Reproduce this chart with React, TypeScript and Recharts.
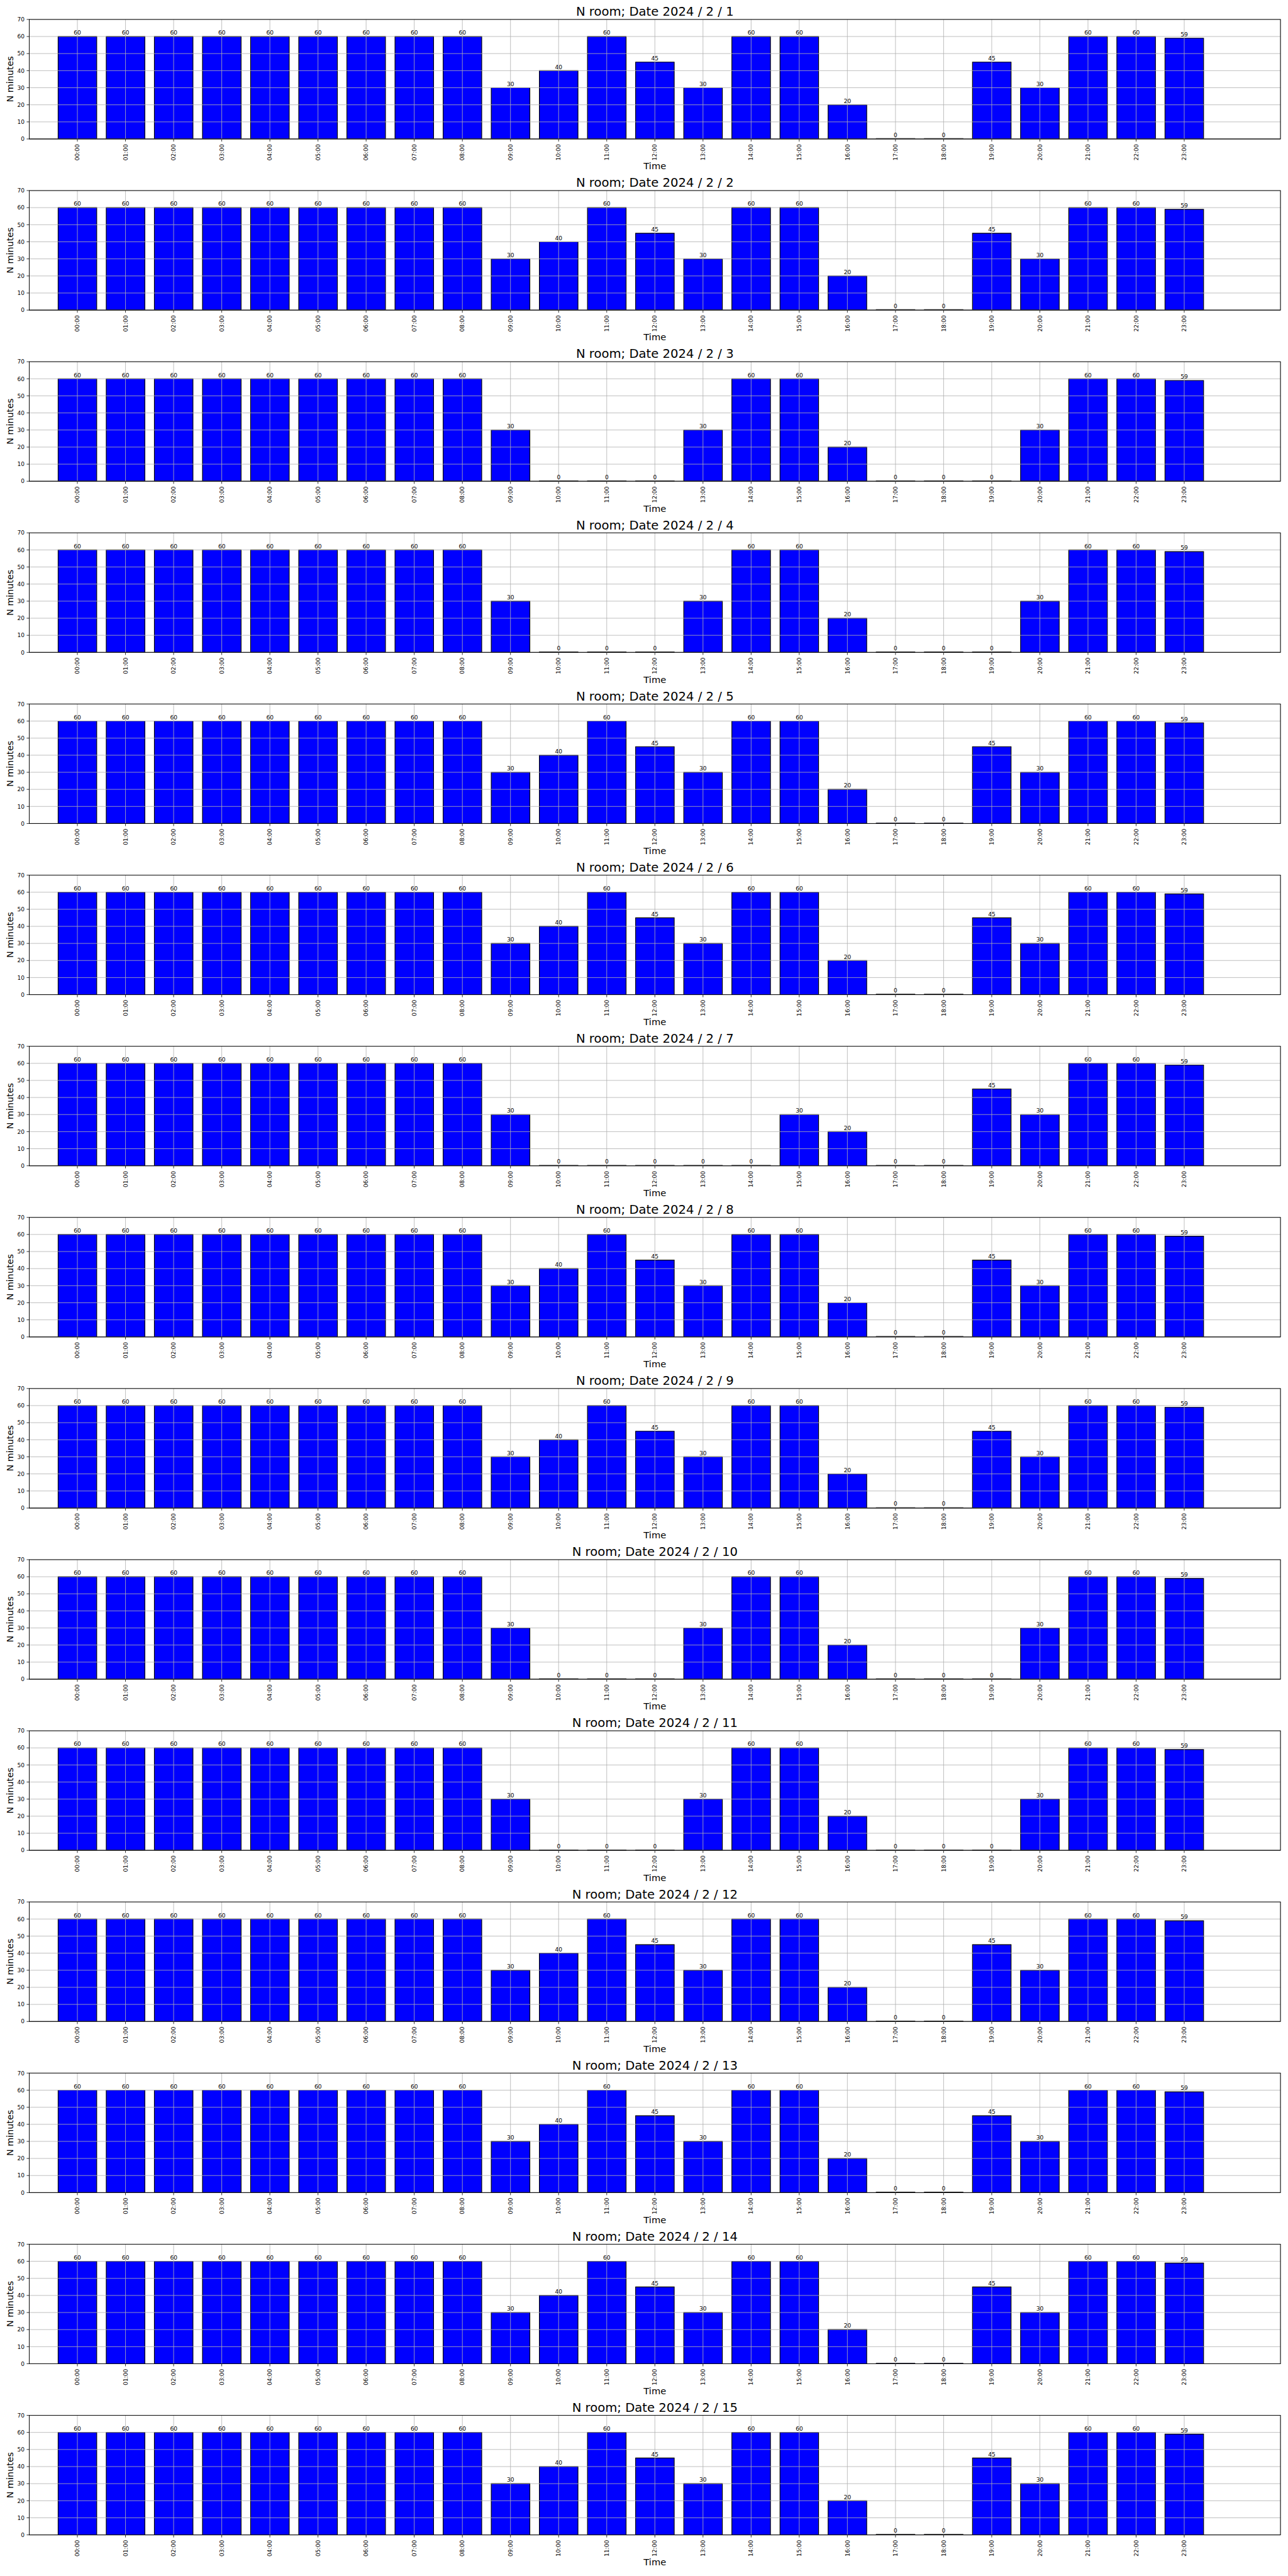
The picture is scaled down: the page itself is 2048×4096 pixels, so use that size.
import React from "react";
import { BarChart, Bar, XAxis, YAxis, CartesianGrid, LabelList } from "recharts";

const HOURS = [
  "00:00", "01:00", "02:00", "03:00", "04:00", "05:00", "06:00", "07:00",
  "08:00", "09:00", "10:00", "11:00", "12:00", "13:00", "14:00", "15:00",
  "16:00", "17:00", "18:00", "19:00", "20:00", "21:00", "22:00", "23:00",
];

const Y_TICKS = [0, 10, 20, 30, 40, 50, 60, 70];

// minutes per hour
const DAY_1 = [60, 60, 60, 60, 60, 60, 60, 60, 60, 30, 40, 60, 45, 30, 60, 60, 20, 0, 0, 45, 30, 60, 60, 59];
const DAY_2 = [60, 60, 60, 60, 60, 60, 60, 60, 60, 30, 40, 60, 45, 30, 60, 60, 20, 0, 0, 45, 30, 60, 60, 59];
const DAY_3 = [60, 60, 60, 60, 60, 60, 60, 60, 60, 30, 0, 0, 0, 30, 60, 60, 20, 0, 0, 0, 30, 60, 60, 59];
const DAY_4 = [60, 60, 60, 60, 60, 60, 60, 60, 60, 30, 0, 0, 0, 30, 60, 60, 20, 0, 0, 0, 30, 60, 60, 59];
const DAY_5 = [60, 60, 60, 60, 60, 60, 60, 60, 60, 30, 40, 60, 45, 30, 60, 60, 20, 0, 0, 45, 30, 60, 60, 59];
const DAY_6 = [60, 60, 60, 60, 60, 60, 60, 60, 60, 30, 40, 60, 45, 30, 60, 60, 20, 0, 0, 45, 30, 60, 60, 59];
const DAY_7 = [60, 60, 60, 60, 60, 60, 60, 60, 60, 30, 0, 0, 0, 0, 0, 30, 20, 0, 0, 45, 30, 60, 60, 59];
const DAY_8 = [60, 60, 60, 60, 60, 60, 60, 60, 60, 30, 40, 60, 45, 30, 60, 60, 20, 0, 0, 45, 30, 60, 60, 59];
const DAY_9 = [60, 60, 60, 60, 60, 60, 60, 60, 60, 30, 40, 60, 45, 30, 60, 60, 20, 0, 0, 45, 30, 60, 60, 59];
const DAY_10 = [60, 60, 60, 60, 60, 60, 60, 60, 60, 30, 0, 0, 0, 30, 60, 60, 20, 0, 0, 0, 30, 60, 60, 59];
const DAY_11 = [60, 60, 60, 60, 60, 60, 60, 60, 60, 30, 0, 0, 0, 30, 60, 60, 20, 0, 0, 0, 30, 60, 60, 59];
const DAY_12 = [60, 60, 60, 60, 60, 60, 60, 60, 60, 30, 40, 60, 45, 30, 60, 60, 20, 0, 0, 45, 30, 60, 60, 59];
const DAY_13 = [60, 60, 60, 60, 60, 60, 60, 60, 60, 30, 40, 60, 45, 30, 60, 60, 20, 0, 0, 45, 30, 60, 60, 59];
const DAY_14 = [60, 60, 60, 60, 60, 60, 60, 60, 60, 30, 40, 60, 45, 30, 60, 60, 20, 0, 0, 45, 30, 60, 60, 59];
const DAY_15 = [60, 60, 60, 60, 60, 60, 60, 60, 60, 30, 40, 60, 45, 30, 60, 60, 20, 0, 0, 45, 30, 60, 60, 59];

const DATES = [
  "2024 / 2 / 1", "2024 / 2 / 2", "2024 / 2 / 3", "2024 / 2 / 4", "2024 / 2 / 5",
  "2024 / 2 / 6", "2024 / 2 / 7", "2024 / 2 / 8", "2024 / 2 / 9", "2024 / 2 / 10",
  "2024 / 2 / 11", "2024 / 2 / 12", "2024 / 2 / 13", "2024 / 2 / 14", "2024 / 2 / 15",
];
const SERIES = [
  DAY_1, DAY_2, DAY_3, DAY_4, DAY_5, DAY_6, DAY_7, DAY_8,
  DAY_9, DAY_10, DAY_11, DAY_12, DAY_13, DAY_14, DAY_15,
];

// layout in reference pixels (3000 x 6000), scaled down at the end
const SCALE = 0.682;
const W = 3000;
const PANEL_H = 399;
const PLOT_LEFT = 68.2;
const PLOT_TOP = 45.3;
const PLOT_W = 2917.2;
const PLOT_H = 278.7;
const X_AXIS_H = PANEL_H - PLOT_TOP - PLOT_H;
const UNIT = PLOT_W / 26; // xlim is [-1, 25]
const CX = PLOT_LEFT + PLOT_W / 2;
const FONT = "'DejaVu Sans', sans-serif";
const SMALL = 13.3;

function HourTick(props: any) {
  const { x, y, payload } = props;
  return (
    <text
      x={x}
      y={y}
      transform={`rotate(-90, ${x}, ${y})`}
      textAnchor="end"
      dy="0.35em"
      fontSize={SMALL}
      fill="#000"
    >
      {payload.value}
    </text>
  );
}

function DayPanel({ date, values }: { date: string; values: number[] }) {
  const rows = HOURS.map((h, i) => ({ hour: h, minutes: values[i] }));
  return (
    <div style={{ position: "relative", width: W, height: PANEL_H }}>
      <BarChart
        width={W}
        height={PANEL_H}
        data={rows}
        margin={{ top: PLOT_TOP, right: W - PLOT_LEFT - PLOT_W, bottom: 0, left: 0 }}
        barCategoryGap="10%"
      >
        <XAxis
          dataKey="hour"
          type="category"
          interval={0}
          height={X_AXIS_H}
          padding={{ left: UNIT * 0.5, right: UNIT * 1.5 }}
          tickSize={6}
          tickMargin={6}
          tick={<HourTick />}
          axisLine={{ stroke: "#000", strokeWidth: 1.4 }}
          tickLine={{ stroke: "#000", strokeWidth: 1.2 }}
        />
        <YAxis
          type="number"
          domain={[0, 70]}
          ticks={Y_TICKS}
          allowDataOverflow
          width={PLOT_LEFT}
          tickSize={6}
          tickMargin={5}
          tick={{ fontSize: SMALL, fill: "#000" }}
          axisLine={{ stroke: "#000", strokeWidth: 1.4 }}
          tickLine={{ stroke: "#000", strokeWidth: 1.2 }}
        />
        <Bar
          dataKey="minutes"
          fill="#0000ff"
          stroke="#000"
          strokeWidth={1.7}
          minPointSize={1}
          isAnimationActive={false}
        >
          <LabelList
            dataKey="minutes"
            position="top"
            offset={4}
            fill="#000"
            fontSize={SMALL}
          />
        </Bar>
        {/* matplotlib draws the grid over the bar patches */}
        <CartesianGrid stroke="#b0b0b0" strokeWidth={1.2} {...({ zIndex: 500 } as any)} />
      </BarChart>
      <svg
        width={W}
        height={PANEL_H}
        style={{ position: "absolute", left: 0, top: 0, pointerEvents: "none" }}
      >
        <rect
          x={PLOT_LEFT}
          y={PLOT_TOP}
          width={PLOT_W}
          height={PLOT_H}
          fill="none"
          stroke="#000"
          strokeWidth={1.4}
        />
        <text x={CX} y={37} textAnchor="middle" fontSize={28.8} fill="#000">
          N room; Date {date}
        </text>
        <text x={CX} y={395} textAnchor="middle" fontSize={21.5} fill="#000">
          Time
        </text>
        <text
          x={31}
          y={PLOT_TOP + PLOT_H / 2}
          transform={`rotate(-90, 31, ${PLOT_TOP + PLOT_H / 2})`}
          textAnchor="middle"
          fontSize={21}
          fill="#000"
        >
          N minutes
        </text>
      </svg>
    </div>
  );
}

export default function App() {
  return (
    <div
      style={{
        position: "absolute",
        left: 0,
        top: 0,
        width: W,
        height: PANEL_H * 15 + 15,
        background: "#fff",
        fontFamily: FONT,
        transform: `scale(${SCALE})`,
        transformOrigin: "0 0",
      }}
    >
      {DATES.map((d, i) => (
        <DayPanel key={d} date={d} values={SERIES[i]} />
      ))}
    </div>
  );
}
